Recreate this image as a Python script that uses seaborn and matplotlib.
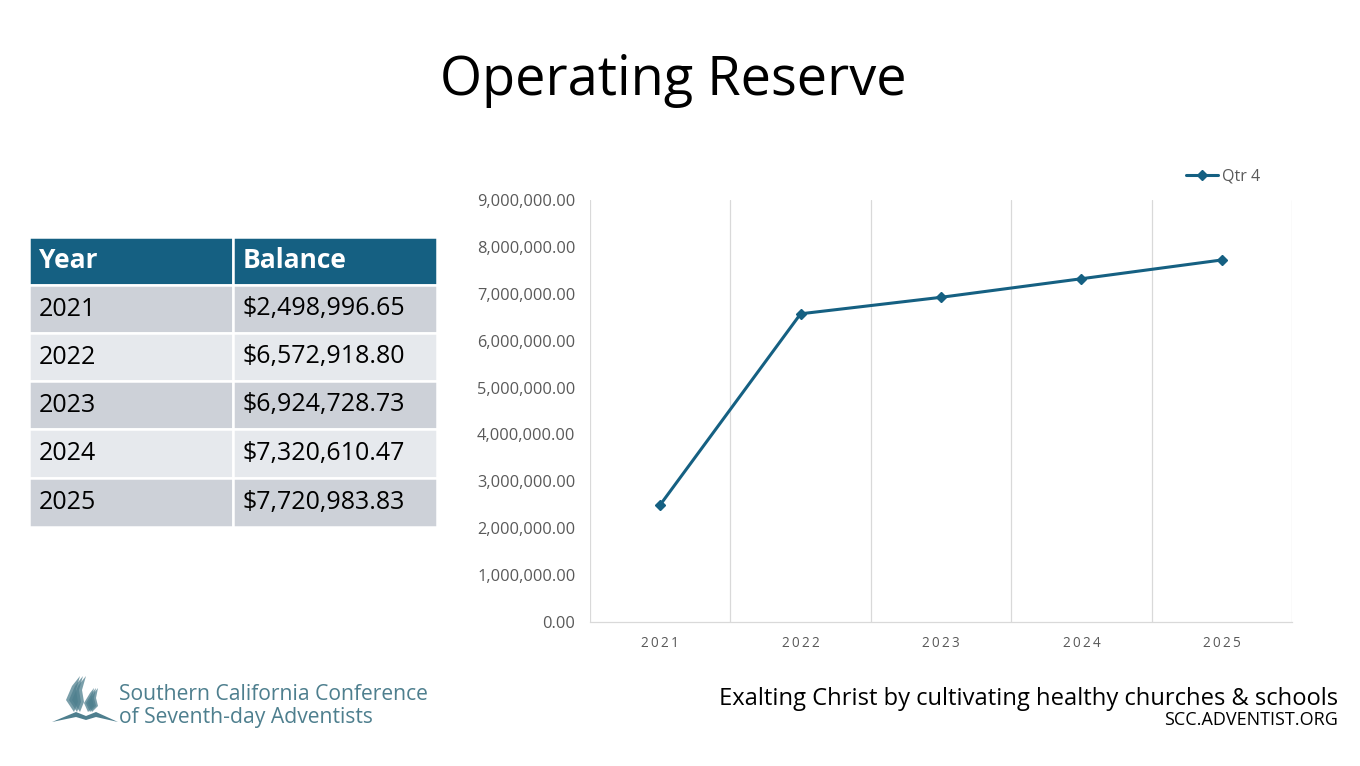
import numpy as np
import pandas as pd
import matplotlib
matplotlib.use('Agg')
import matplotlib.pyplot as plt
from matplotlib.patches import Rectangle, Polygon
from matplotlib.ticker import FuncFormatter
import seaborn as sns

"""Data read off the slide"""
years = ['2021', '2022', '2023', '2024', '2025']
balances = [2498996.65, 6572918.80, 6924728.73, 7320610.47, 7720983.83]
series_name = 'Qtr 4'
y_ticks = [0, 1000000, 2000000, 3000000, 4000000, 5000000,
           6000000, 7000000, 8000000, 9000000]
table_header = ['Year', 'Balance']

df = pd.DataFrame({'Year': years, 'Balance': balances, 'Series': series_name})

sns.set_theme(style='white')
plt.rcParams['font.family'] = ['Open Sans', 'DejaVu Sans']

navy = '#156082'
dark_row = '#CDD1D8'
light_row = '#E6E9ED'
grid_col = '#D9D9D9'
tick_col = '#595959'

fig = plt.figure(figsize=(13.6, 7.66), dpi=100)
W, H = 1360, 766


def fx(px):
    return px / W


def fy(py):
    return 1 - py / H


"""Title"""
fig.text(fx(673), fy(80), 'Operating Reserve', ha='center', va='center',
         fontsize=39, color='black')

"""Line chart"""
ax = fig.add_axes([fx(590), fy(622), fx(1292) - fx(590), fy(200) - fy(622)])
ax.plot(np.arange(len(years)), df['Balance'], color=navy, lw=2.2,
        marker='D', markersize=5, label=series_name)
ax.set_xlim(-0.5, len(years) - 0.5)
ax.set_ylim(0, 9000000)
ax.set_yticks(y_ticks)
ax.yaxis.set_major_formatter(FuncFormatter(lambda v, p: '{:,.2f}'.format(v)))
ax.set_xticks(np.arange(len(years)))
ax.set_xticklabels(['\u2009'.join(y) for y in years])
for b in np.arange(len(years) + 1) - 0.5:
    ax.axvline(b, color=grid_col, lw=0.9, zorder=0)
for s in ['top', 'right', 'left']:
    ax.spines[s].set_visible(False)
ax.spines['bottom'].set_color(grid_col)
ax.spines['bottom'].set_linewidth(0.9)
ax.tick_params(axis='both', length=0, colors=tick_col)
ax.tick_params(axis='y', labelsize=11.8, pad=10.5)
ax.tick_params(axis='x', labelsize=9.8, pad=10)
leg = ax.legend(loc='lower right', bbox_to_anchor=(0.963, 1.022), frameon=False,
                fontsize=11.5, handlelength=2.0, handletextpad=0.2, borderaxespad=0)
for t in leg.get_texts():
    t.set_color(tick_col)

"""Table on the left"""
tax = fig.add_axes([0, 0, 1, 1])
tax.set_xlim(0, W)
tax.set_ylim(H, 0)
tax.axis('off')
col_x = [29, 233, 437]
row_top = 237
row_h = [48, 48, 48, 48, 49, 49]
y0 = row_top
rows = [table_header] + [[y, '${:,.2f}'.format(v)] for y, v in zip(years, balances)]
for i, row in enumerate(rows):
    h = row_h[i]
    if i == 0:
        fc = navy
    elif i % 2 == 1:
        fc = dark_row
    else:
        fc = light_row
    for j in range(2):
        tax.add_patch(Rectangle((col_x[j], y0), col_x[j + 1] - col_x[j], h,
                                facecolor=fc, edgecolor='white', lw=1.8))
        tax.text(col_x[j] + 10, y0 + h / 2, row[j], ha='left', va='center',
                 fontsize=19 if i == 0 else 18,
                 fontweight='bold' if i == 0 else 'normal',
                 color='white' if i == 0 else 'black')
    y0 += h

"""Footer"""
logo_col = '#4E7F8E'
tax.add_patch(Polygon([[52, 722], [76, 712], [86, 716], [96, 712], [118, 722],
                       [96, 717], [86, 720], [76, 717]], closed=True,
                      facecolor=logo_col, edgecolor='none'))
for k in range(3):
    tax.add_patch(Polygon([[74 + k * 3, 712], [66 + k * 3, 700], [72 + k * 3, 686],
                           [80 + k * 3, 676], [76 + k * 3, 690], [78 + k * 3, 702]],
                          closed=True, facecolor=logo_col, edgecolor='none', alpha=0.75))
    tax.add_patch(Polygon([[88 + k * 2, 712], [84 + k * 2, 703], [90 + k * 2, 693],
                           [94 + k * 2, 688], [92 + k * 2, 698], [94 + k * 2, 706]],
                          closed=True, facecolor=logo_col, edgecolor='none', alpha=0.75))
tax.text(119, 695, 'Southern California Conference', ha='left', va='center',
         fontsize=15.25, color=logo_col)
tax.text(119, 718, 'of Seventh-day Adventists', ha='left', va='center',
         fontsize=15.25, color=logo_col)
tax.text(1338, 699, 'Exalting Christ by cultivating healthy churches & schools',
         ha='right', va='center', fontsize=17.1, color='black')
tax.text(1338, 720, 'SCC.ADVENTIST.ORG', ha='right', va='center',
         fontsize=13, color='black')

fig.savefig('out.png', dpi=100, facecolor='white')
